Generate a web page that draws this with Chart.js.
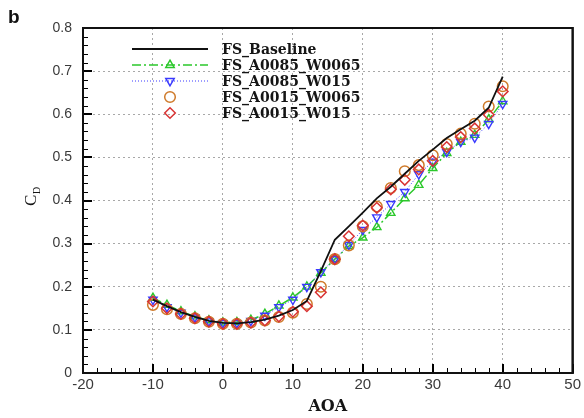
<!DOCTYPE html>
<html>
<head>
<meta charset="utf-8">
<script src="https://cdn.jsdelivr.net/npm/chart.js@4.4.1/dist/chart.umd.min.js"></script>
<style>
    html, body { margin: 0; padding: 0; background: #fff; }
    #wrap { width: 584px; height: 418px; position: relative; }
</style>
</head>
<body>
<div id="wrap"><canvas id="cdChart"></canvas></div>
<script>
// angle of attack, every 2 degrees
const aoa = [-10, -8, -6, -4, -2, 0, 2, 4, 6, 8, 10, 12, 14, 16, 18, 20, 22, 24, 26, 28, 30, 32, 34, 36, 38, 40];

const cdBaseline = [0.170, 0.155, 0.141, 0.130, 0.121, 0.116, 0.115, 0.118, 0.124, 0.133, 0.146, 0.167, 0.236, 0.309,
    0.340, 0.372, 0.405, 0.432, 0.462, 0.492, 0.518, 0.545, 0.565, 0.585, 0.615, 0.687];
const cdA0085W0065 = [0.174, 0.158, 0.143, 0.131, 0.122, 0.117, 0.118, 0.123, 0.137, 0.156, 0.175, 0.200, 0.232, 0.264,
    0.294, 0.314, 0.338, 0.371, 0.405, 0.436, 0.475, 0.510, 0.536, 0.552, 0.588, 0.630];
const cdA0085W015 = [0.170, 0.153, 0.140, 0.129, 0.120, 0.116, 0.116, 0.121, 0.133, 0.153, 0.170, 0.200, 0.234, 0.264,
    0.297, 0.332, 0.361, 0.392, 0.420, 0.461, 0.490, 0.513, 0.536, 0.546, 0.578, 0.624];
const cdA0015W0065 = [0.158, 0.148, 0.137, 0.127, 0.119, 0.114, 0.114, 0.117, 0.122, 0.130, 0.140, 0.160, 0.200, 0.264,
    0.296, 0.340, 0.386, 0.429, 0.468, 0.482, 0.505, 0.531, 0.555, 0.578, 0.618, 0.665];
const cdA0015W015 = [0.166, 0.150, 0.137, 0.127, 0.119, 0.114, 0.114, 0.117, 0.122, 0.131, 0.142, 0.155, 0.187, 0.264,
    0.317, 0.342, 0.383, 0.426, 0.448, 0.472, 0.492, 0.524, 0.547, 0.567, 0.599, 0.653];

const seriesNames = ['FS_Baseline', 'FS_A0085_W0065', 'FS_A0085_W015', 'FS_A0015_W0065', 'FS_A0015_W015'];
const xTicks = [-20, -10, 0, 10, 20, 30, 40, 50];
const yTicks = [0, 0.1, 0.2, 0.3, 0.4, 0.5, 0.6, 0.7, 0.8];

const toPoints = values => values.map((v, i) => ({ x: aoa[i], y: v }));

const GREEN = '#2bc82b';
const BLUE = '#3a3aff';
const ORANGE = '#cf7a2a';
const RED = '#d83434';

// inward ticks (minor every 2 deg / 0.02) and the plot border
function drawFrame(chart) {
    const ctx = chart.ctx;
    const area = chart.chartArea;
    const xs = chart.scales.x;
    const ys = chart.scales.y;
    ctx.save();
    ctx.setLineDash([]);
    ctx.fillStyle = '#000';
    for (let k = 0; k <= 35; k++) {
        const major = k % 5 === 0;
        const px = Math.round(xs.getPixelForValue(xTicks[0] + k * 2));
        const w = major ? 2 : 1;
        const len = major ? 9 : 5;
        ctx.fillRect(px - (major ? 1 : 0), area.bottom - len, w, len);
    }
    for (let k = 0; k <= 40; k++) {
        const major = k % 5 === 0;
        const py = Math.round(ys.getPixelForValue(k * 0.02));
        const w = major ? 2 : 1;
        const len = major ? 9 : 5;
        ctx.fillRect(area.left, py - (major ? 1 : 0), len, w);
    }
    ctx.lineWidth = 2;
    ctx.strokeStyle = '#111';
    ctx.strokeRect(area.left, area.top, area.right - area.left, area.bottom - area.top);
    ctx.restore();
}

const framePlugin = {
    id: 'frame',
    afterDatasetsDraw: chart => drawFrame(chart),
    afterDraw: chart => drawFrame(chart)
};

// legend with line + marker samples, y title C_D, panel letter
const labelPlugin = {
    id: 'labels',
    afterDraw(chart) {
        const ctx = chart.ctx;
        ctx.save();
        chart.data.datasets.forEach((ds, i) => {
            const y = 49 + i * 16;
            if (ds.showLine !== false) {
                ctx.strokeStyle = ds.borderColor;
                ctx.lineWidth = ds.borderWidth;
                ctx.setLineDash(ds.borderDash || []);
                ctx.beginPath();
                ctx.moveTo(132, y);
                ctx.lineTo(208, y);
                ctx.stroke();
                ctx.setLineDash([]);
            }
            if (ds.pointRadius > 0) {
                drawMarker(ctx, ds.pointStyle, ds.pointRotation || 0, 170, y, ds.pointRadius, ds.borderColor);
            }
            ctx.fillStyle = '#151515';
            ctx.font = 'bold 14px "DejaVu Serif"';
            ctx.textBaseline = 'middle';
            ctx.textAlign = 'left';
            ctx.fillText(ds.label, 222, y + 1);
        });

        ctx.save();
        ctx.translate(31, 199);
        ctx.rotate(-Math.PI / 2);
        ctx.fillStyle = '#151515';
        ctx.textBaseline = 'alphabetic';
        ctx.textAlign = 'left';
        ctx.font = '17px "Liberation Serif"';
        ctx.fillText('C', -7, 5);
        ctx.font = '10px "Liberation Serif"';
        ctx.fillText('D', 5, 9);
        ctx.restore();

        ctx.font = 'bold 19px "Liberation Sans"';
        ctx.fillStyle = '#111';
        ctx.textBaseline = 'alphabetic';
        ctx.fillText('b', 8, 23);
        ctx.restore();
    }
};

function drawMarker(ctx, style, rotation, x, y, r, color) {
    ctx.save();
    ctx.strokeStyle = color;
    ctx.lineWidth = 1.5;
    ctx.translate(x, y);
    ctx.rotate(rotation * Math.PI / 180);
    ctx.beginPath();
    if (style === 'triangle') {
        ctx.moveTo(0, -r);
        ctx.lineTo(r * 0.87, r * 0.5);
        ctx.lineTo(-r * 0.87, r * 0.5);
        ctx.closePath();
    } else if (style === 'rectRot') {
        ctx.moveTo(0, -r);
        ctx.lineTo(r, 0);
        ctx.lineTo(0, r);
        ctx.lineTo(-r, 0);
        ctx.closePath();
    } else {
        ctx.arc(0, 0, r, 0, Math.PI * 2);
    }
    ctx.stroke();
    ctx.restore();
}

const datasets = [
    {
        label: seriesNames[0],
        data: toPoints(cdBaseline),
        borderColor: '#111',
        borderWidth: 1.8,
        pointRadius: 0,
        showLine: true,
        order: 1
    },
    {
        label: seriesNames[1],
        data: toPoints(cdA0085W0065),
        borderColor: GREEN,
        borderWidth: 1.5,
        borderDash: [9, 3, 2, 3],
        pointStyle: 'triangle',
        pointRadius: 4.8,
        pointBorderWidth: 1.4,
        pointBackgroundColor: 'rgba(255,255,255,0)',
        showLine: true,
        order: 5
    },
    {
        label: seriesNames[2],
        data: toPoints(cdA0085W015),
        borderColor: BLUE,
        borderWidth: 1,
        borderDash: [1, 2],
        pointStyle: 'triangle',
        pointRotation: 180,
        pointRadius: 4.8,
        pointBorderWidth: 1.4,
        pointBackgroundColor: 'rgba(255,255,255,0)',
        showLine: true,
        order: 4
    },
    {
        label: seriesNames[3],
        data: toPoints(cdA0015W0065),
        borderColor: ORANGE,
        pointStyle: 'circle',
        pointRadius: 5.3,
        pointBorderWidth: 1.5,
        pointBackgroundColor: 'rgba(255,255,255,0)',
        showLine: false,
        order: 3
    },
    {
        label: seriesNames[4],
        data: toPoints(cdA0015W015),
        borderColor: RED,
        pointStyle: 'rectRot',
        pointRadius: 5.3,
        pointBorderWidth: 1.5,
        pointBackgroundColor: 'rgba(255,255,255,0)',
        showLine: false,
        order: 2
    }
];

new Chart(document.getElementById('cdChart').getContext('2d'), {
    type: 'scatter',
    data: { datasets },
    plugins: [framePlugin, labelPlugin],
    options: {
        responsive: true,
        maintainAspectRatio: false,
        animation: false,
        layout: { padding: { top: 28, right: 11, left: 0, bottom: 0 } },
        plugins: {
            legend: { display: false },
            tooltip: { enabled: false }
        },
        scales: {
            x: {
                type: 'linear',
                min: xTicks[0],
                max: xTicks[xTicks.length - 1],
                afterBuildTicks: scale => { scale.ticks = xTicks.map(v => ({ value: v })); },
                afterFit: scale => { scale.height = 45; },
                ticks: {
                    color: '#3a3a3a',
                    font: { family: 'Liberation Sans', size: 15 },
                    padding: 3,
                    maxRotation: 0
                },
                grid: { color: '#a8a8a8', drawTicks: false },
                border: { display: false, dash: [2, 3] },
                title: {
                    display: true,
                    text: 'AOA',
                    color: '#151515',
                    font: { family: 'DejaVu Serif', size: 16, weight: 'bold' },
                    padding: { top: 0, bottom: 2 }
                }
            },
            y: {
                type: 'linear',
                min: yTicks[0],
                max: yTicks[yTicks.length - 1],
                afterBuildTicks: scale => { scale.ticks = yTicks.map(v => ({ value: v })); },
                afterFit: scale => { scale.width = 83; },
                ticks: {
                    color: '#3a3a3a',
                    font: { family: 'Liberation Sans', size: 14 },
                    padding: 11
                },
                grid: { color: '#a8a8a8', drawTicks: false },
                border: { display: false, dash: [2, 3] }
            }
        }
    }
});
</script>
</body>
</html>
